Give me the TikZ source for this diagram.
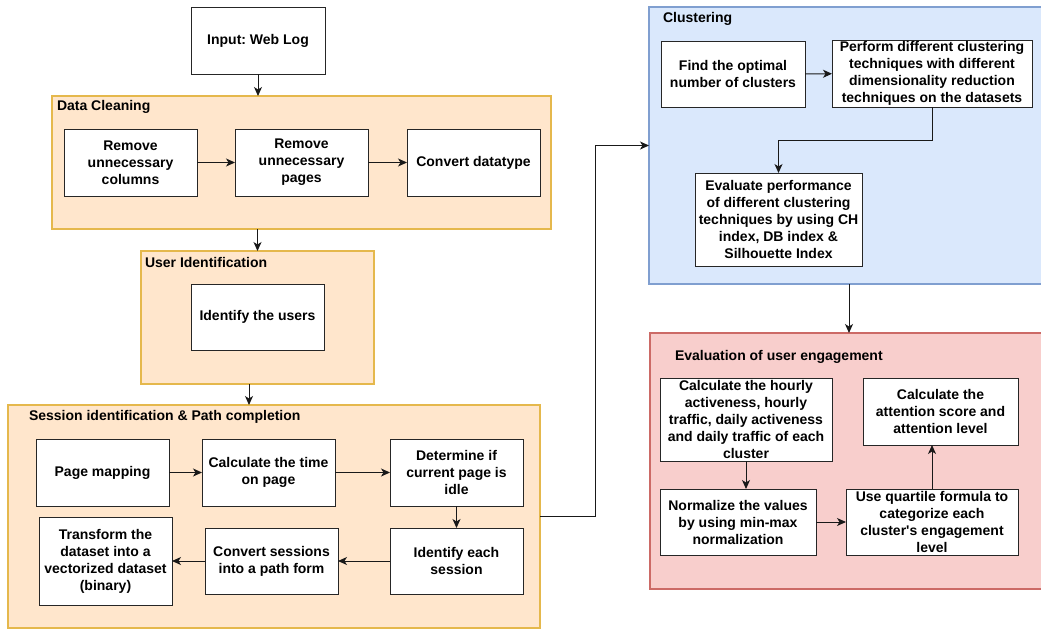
\documentclass[tikz,border=0pt]{standalone}
\usepackage{fontspec}
\setmainfont{Liberation Sans}[Ligatures=TeXOff]
\frenchspacing
\usetikzlibrary{arrows.meta}
\definecolor{orfill}{HTML}{FFE6CC}
\definecolor{ordraw}{HTML}{E5B84C}
\definecolor{blfill}{HTML}{DAE8FC}
\definecolor{bldraw}{HTML}{809FD0}
\definecolor{rdfill}{HTML}{F8CECC}
\definecolor{rddraw}{HTML}{CC6A66}
\definecolor{boxdraw}{HTML}{262626}
\tikzset{
  every node/.style={font=\fontsize{14}{17}\selectfont\bfseries, inner sep=0pt, outer sep=0pt},
  box/.style={draw=boxdraw, fill=white, line width=1pt, align=center},
  ocont/.style={draw=ordraw, fill=orfill, line width=1.3pt},
  bcont/.style={draw=bldraw, fill=blfill, line width=1.3pt},
  rcont/.style={draw=rddraw, fill=rdfill, line width=1.3pt},
  ctitle/.style={anchor=west},
  conn/.style={draw=black!90, line width=1pt, -{Stealth[length=9pt,width=8pt,inset=2.5pt]}},
  sz/.style 2 args={minimum width=#1, minimum height=#2},
}
\begin{document}
\begin{tikzpicture}[x=1pt,y=-1pt]
\useasboundingbox (0,0) rectangle (1041,629);

% containers
\node[ocont, sz={499}{133}] (dc) at (301.5,162.5) {};
\node[ctitle] (dct) at (57,107) {Data Cleaning};
\node[ocont, sz={233}{133}] (ui) at (257.5,317.5) {};
\node[ctitle] (uit) at (145,262) {User Identification};
\node[ocont, sz={532}{223}] (sess) at (274,516.5) {};
\node[ctitle] (sesst) at (29,417) {Session identification \& Path completion};
\node[bcont, sz={397}{277}] (clust) at (847.5,145.5) {};
\node[ctitle] (clustt) at (663,19) {Clustering};
\node[rcont, sz={396}{256}] (evalc) at (848,461) {};
\node[ctitle] (evalct) at (675,357) {Evaluation of user engagement};

% boxes
\node[box, sz={134}{67}] (input) at (258,40.5) {Input: Web Log};
\node[box, sz={133}{67}] (rc) at (130.5,162.5) {Remove\\unnecessary\\columns};
\node[box, sz={133}{67}] (rp) at (301.5,162.5) {Remove\\unnecessary\\pages};
\node[box, sz={133}{67}] (cd) at (473.5,162.5) {Convert datatype};
\node[box, sz={133}{66}] (iu) at (257.5,317) {Identify the users};
\node[box, sz={133}{67}] (pm) at (102.5,472.5) {Page mapping};
\node[box, sz={133}{67}] (ct) at (268.5,472.5) {Calculate the time\\on page};
\node[box, sz={133}{67}] (det) at (456.5,472.5) {Determine if\\current page is\\idle};
\node[box, sz={133}{66}] (ids) at (456.5,561) {Identify each\\session};
\node[box, sz={133}{66}] (conv) at (271.5,561) {Convert sessions\\into a path form};
\node[box, sz={133}{88}] (trans) at (105.5,561) {Transform the\\dataset into a\\vectorized dataset\\(binary)};
\node[box, sz={144}{66}] (find) at (733,74) {Find the optimal\\number of clusters};
\node[box, sz={200}{67}] (perf) at (932,73.5) {Perform different clustering\\techniques with different\\dimensionality reduction\\techniques on the datasets};
\node[box, sz={167}{93}] (evalp) at (778.5,219.5) {Evaluate performance\\of different clustering\\techniques by using CH\\index, DB index \&\\Silhouette Index};
\node[box, sz={172}{83}] (hourly) at (746,419.5) {Calculate the hourly\\activeness, hourly\\traffic, daily activeness\\and daily traffic of each\\cluster};
\node[box, sz={156}{66}] (norm) at (738,522) {Normalize the values\\by using min-max\\normalization};
\node[box, sz={172}{66}] (quart) at (932,522) {Use quartile formula to\\categorize each\\cluster's engagement\\level};
\node[box, sz={155}{67}] (attn) at (940.5,411.5) {Calculate the\\attention score and\\attention level};

% helper coordinates
\coordinate (bend) at (595,0);
\coordinate (ce) at (849,0);

% connectors
\draw[conn] (input.south) -- (input.south |- dc.north);
\draw[conn] (ui.north |- dc.south) -- (ui.north);
\draw[conn] ([xshift=-8.5pt]ui.south) -- ([xshift=-8.5pt]ui.south |- sess.north);
\draw[conn] (sess.east) -- (sess.east -| bend) |- (clust.west);
\draw[conn] (ce |- clust.south) -- (ce |- evalc.north);

\draw[conn] (rc) -- (rp);
\draw[conn] (rp) -- (cd);
\draw[conn] (pm) -- (ct);
\draw[conn] (ct) -- (det);
\draw[conn] (det) -- (ids);
\draw[conn] (ids) -- (conv);
\draw[conn] (conv) -- (trans);

\draw[conn] (find) -- (perf);
\draw[conn] (perf.south) -- ++(0,33) -| (evalp.north);

\draw[conn] (hourly.south) -- (hourly.south |- norm.north);
\draw[conn] (norm) -- (quart);
\draw[conn] (quart.north) -- (quart.north |- attn.south);
\end{tikzpicture}
\end{document}
